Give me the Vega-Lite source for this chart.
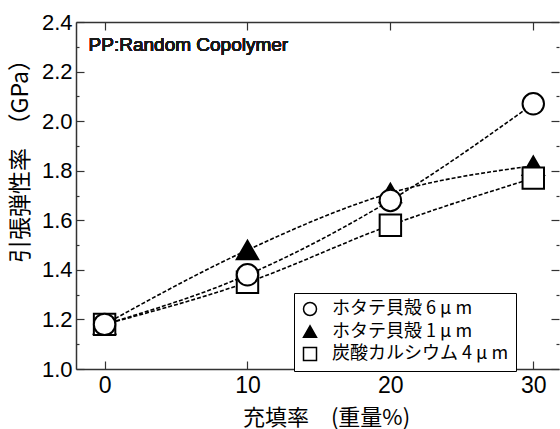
{
  "$schema": "https://vega.github.io/schema/vega-lite/v6.json",
  "width": 483,
  "height": 347,
  "autosize": {"type": "none"},
  "padding": {"left": 76, "top": 22, "right": 1, "bottom": 60},
  "background": "white",
  "config": {
    "view": {"stroke": null},
    "font": "Liberation Sans",
    "axis": {"grid": false, "domainColor": "#333", "domainWidth": 1.5, "tickColor": "#333", "tickWidth": 1.2, "labelColor": "black", "titleColor": "black", "labelFont": "Liberation Sans", "labelFontSize": 22}
  },
  "data": {"values": [
    {"series": "ホタテ貝殻 1μm", "x": 0, "y": 1.18},
    {"series": "ホタテ貝殻 1μm", "x": 10, "y": 1.48},
    {"series": "ホタテ貝殻 1μm", "x": 20, "y": 1.71},
    {"series": "ホタテ貝殻 1μm", "x": 30, "y": 1.82},
    {"series": "炭酸カルシウム 4μm", "x": 0, "y": 1.18},
    {"series": "炭酸カルシウム 4μm", "x": 10, "y": 1.35},
    {"series": "炭酸カルシウム 4μm", "x": 20, "y": 1.58},
    {"series": "炭酸カルシウム 4μm", "x": 30, "y": 1.77},
    {"series": "ホタテ貝殻 6μm", "x": 0, "y": 1.18},
    {"series": "ホタテ貝殻 6μm", "x": 10, "y": 1.38},
    {"series": "ホタテ貝殻 6μm", "x": 20, "y": 1.68},
    {"series": "ホタテ貝殻 6μm", "x": 30, "y": 2.07}
  ]},
  "layer": [
    {
      "mark": {"type": "line", "color": "black", "strokeWidth": 1.6, "strokeDash": [4, 2], "interpolate": "monotone"},
      "encoding": {
        "x": {"field": "x", "type": "quantitative", "scale": {"domain": [-2, 31.8], "nice": false, "zero": false},
              "axis": {"orient": "bottom", "values": [0, 10, 20, 30], "tickSize": -8, "labelPadding": 13, "labelFontSize": 23,
                       "title": "充填率　(重量%)", "titleFont": "Noto Sans CJK JP", "titleFontSize": 22, "titleFontWeight": "normal", "titleX": 250, "titleY": 48, "titleBaseline": "middle", "titleAlign": "center"}},
        "y": {"field": "y", "type": "quantitative", "scale": {"domain": [1.0, 2.4], "nice": false, "zero": false},
              "axis": {"orient": "left", "values": [1.0, 1.2, 1.4, 1.6, 1.8, 2.0, 2.2, 2.4], "format": ".1f", "tickSize": -8, "labelPadding": 12,
                       "title": "引張弾性率　（GPa）", "titleFont": "Noto Sans CJK JP", "titleFontSize": 23, "titleFontWeight": "normal", "titleX": -56, "titleY": 133, "titleBaseline": "middle", "titleAlign": "center"}},
        "detail": {"field": "series"}
      }
    },
    {
      "mark": {"type": "point", "filled": true, "stroke": "black", "strokeWidth": 2, "size": 460, "opacity": 1},
      "encoding": {
        "x": {"field": "x", "type": "quantitative", "axis": {"orient": "top", "values": [0, 10, 20, 30], "tickSize": -8, "labels": false, "title": null}},
        "y": {"field": "y", "type": "quantitative", "axis": {"orient": "left", "values": [1.1, 1.3, 1.5, 1.7, 1.9, 2.1, 2.3], "tickSize": -3, "labels": false, "title": null, "domain": false}},
        "shape": {"field": "series", "type": "nominal",
                  "scale": {"domain": ["ホタテ貝殻 6μm", "ホタテ貝殻 1μm", "炭酸カルシウム 4μm"], "range": ["circle", "triangle-up", "square"]},
                  "legend": {"title": null, "orient": "none", "legendX": 218, "legendY": 271, "padding": 7, "strokeColor": "black",
                             "labelFont": "Noto Sans CJK JP", "labelFontSize": 18, "labelColor": "black", "symbolSize": 169, "symbolStrokeWidth": 1.5, "labelOffset": 13, "rowPadding": 3.5, "labelLimit": 400, "fillColor": "white",
                             "labelExpr": "datum.label == 'ホタテ貝殻 6μm' ? 'ホタテ貝殻 6 μ m' : datum.label == 'ホタテ貝殻 1μm' ? 'ホタテ貝殻 1 μ m' : '炭酸カルシウム 4 μ m'"}},
        "fill": {"field": "series", "type": "nominal",
                 "scale": {"domain": ["ホタテ貝殻 6μm", "ホタテ貝殻 1μm", "炭酸カルシウム 4μm"], "range": ["white", "black", "white"]},
                 "legend": {"title": null, "orient": "none", "legendX": 218, "legendY": 271, "padding": 7, "strokeColor": "black",
                             "labelFont": "Noto Sans CJK JP", "labelFontSize": 18, "labelColor": "black", "symbolSize": 169, "symbolStrokeWidth": 1.5, "labelOffset": 13, "rowPadding": 3.5, "labelLimit": 400, "fillColor": "white",
                             "labelExpr": "datum.label == 'ホタテ貝殻 6μm' ? 'ホタテ貝殻 6 μ m' : datum.label == 'ホタテ貝殻 1μm' ? 'ホタテ貝殻 1 μ m' : '炭酸カルシウム 4 μ m'"}}
      }
    },
    {
      "mark": {"type": "text", "text": "PP:Random Copolymer", "align": "left", "baseline": "alphabetic", "fontSize": 19, "fontWeight": "normal", "font": "Liberation Sans", "color": "#1a1a1a", "dx": -16, "dy": 4},
      "encoding": {
        "x": {"datum": 0, "type": "quantitative", "axis": null},
        "y": {"datum": 2.3, "type": "quantitative", "axis": {"orient": "right", "values": [1.0, 1.2, 1.4, 1.6, 1.8, 2.0, 2.2, 2.4], "tickSize": -8, "labels": false, "title": null, "domain": false}}
      }
    },
    {
      "mark": {"type": "text", "text": ""},
      "encoding": {
        "x": {"datum": 0, "type": "quantitative", "axis": null},
        "y": {"datum": 1.0, "type": "quantitative", "axis": {"orient": "right", "values": [1.1, 1.3, 1.5, 1.7, 1.9, 2.1, 2.3], "tickSize": -3, "labels": false, "title": null, "domain": false}}
      }
    }
  ],
  "resolve": {"axis": {"x": "independent", "y": "independent"}}
}
